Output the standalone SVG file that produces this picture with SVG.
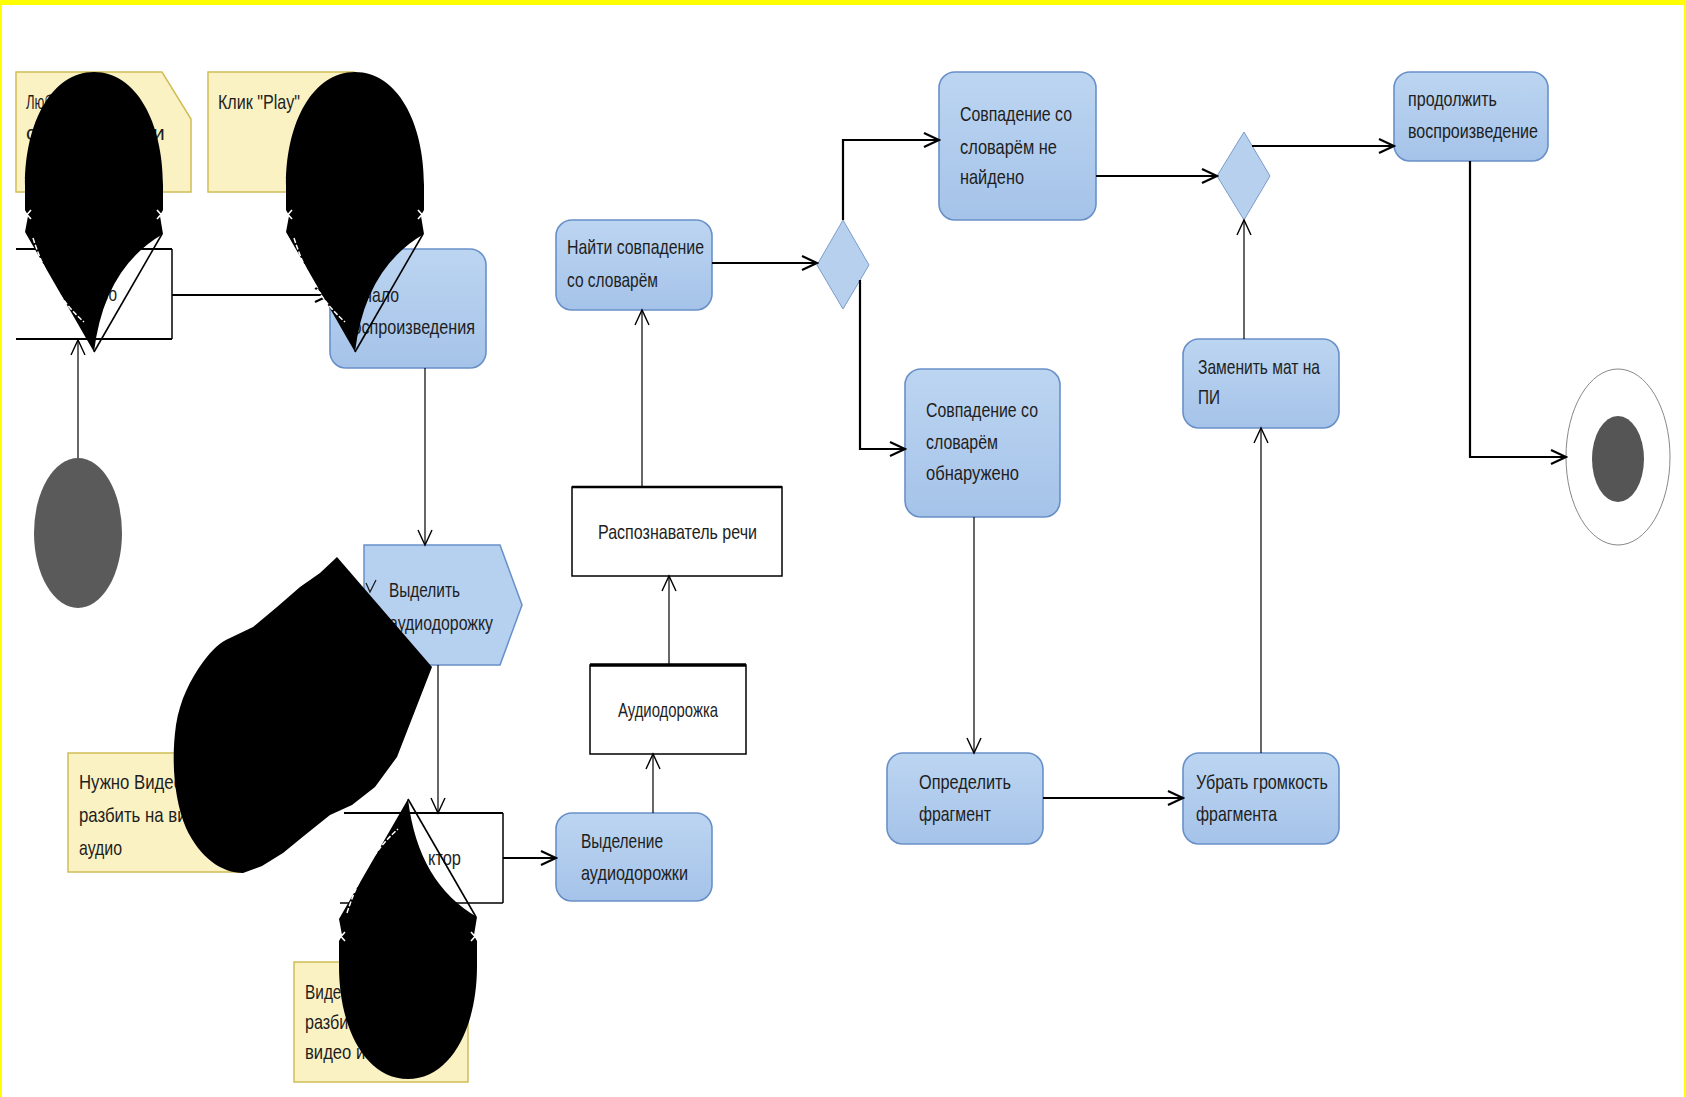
<svg xmlns="http://www.w3.org/2000/svg" width="1686" height="1097" viewBox="0 0 1686 1097">
<defs>
<style>
.t{font-family:"Liberation Sans",Arial,sans-serif;font-size:21px;fill:#1e1e1e}
.note{fill:#fbf2c4;stroke:#cfbd55;stroke-width:1.5}
.act{fill:url(#blue);stroke:#6890c8;stroke-width:1.6}
.obj{fill:#fff;stroke:#000;stroke-width:1.5}
.dec{fill:#b6d0ee;stroke:#7c9ccb;stroke-width:1}
.c1{stroke:#000;stroke-width:1.2;fill:none;marker-end:url(#a1)}
.c2{stroke:#000;stroke-width:2.2;fill:none;marker-end:url(#a2)}
.ln{stroke:#000;fill:none}
</style>
<linearGradient id="blue" x1="0" y1="0" x2="0" y2="1">
<stop offset="0" stop-color="#bcd5f1"/>
<stop offset="1" stop-color="#a5c3e9"/>
</linearGradient>
<marker id="a1" markerUnits="userSpaceOnUse" markerWidth="18" markerHeight="18" viewBox="0 0 18 18" refX="16" refY="9" orient="auto">
<path d="M1,2 L16,9 L1,16" fill="none" stroke="#000" stroke-width="1.4"/>
</marker>
<marker id="a2" markerUnits="userSpaceOnUse" markerWidth="18" markerHeight="18" viewBox="0 0 18 18" refX="16" refY="9" orient="auto">
<path d="M1,2 L16,9 L1,16" fill="none" stroke="#000" stroke-width="2.2"/>
</marker>
<g id="pin">
<path d="M94,72 C136,72 163,122 163,185 L163,210 L160,216 L163,234 Q104,268 94,352 L25,232 L28,216 L25,210 L25,185 C25,122 52,72 94,72 Z" fill="#000"/>
<path d="M162,234 L94,352" stroke="#000" stroke-width="1.6" fill="none"/>
<path d="M23,210 L31,219 M31,210 L23,219 M157,210 L165,219 M165,210 L157,219" stroke="#fff" stroke-width="1.6"/>
<path d="M33,238 Q50,292 84,322" stroke="#fff" stroke-width="1.5" stroke-dasharray="5 2" fill="none"/>
</g>
</defs>

<rect x="0" y="0" width="1686" height="1097" fill="#fff"/>
<rect x="0" y="0" width="1686" height="5" fill="#ffff00"/>
<rect x="0" y="0" width="2" height="1097" fill="#ffff00"/>
<rect x="1684" y="0" width="2" height="1097" fill="#ffff00"/>

<g id="note1">
<path class="note" d="M16,72 L162,72 L191,119 L191,192 L16,192 Z"/>
<text class="t" x="26" y="109" textLength="26" lengthAdjust="spacingAndGlyphs">Люб</text>
<text class="t" x="26" y="140">с</text>
<text class="t" x="153" y="140">и</text>
</g>
<g id="note2">
<path class="note" d="M208,72 L354,72 L383,119 L383,192 L208,192 Z"/>
<text class="t" x="218" y="109" textLength="82" lengthAdjust="spacingAndGlyphs">Клик "Play"</text>
</g>
<g id="note3">
<path class="note" d="M68,753 L214,753 L243,800 L243,872 L68,872 Z"/>
<text class="t" x="79" y="789" textLength="104" lengthAdjust="spacingAndGlyphs">Нужно Видео</text>
<text class="t" x="79" y="822" textLength="150" lengthAdjust="spacingAndGlyphs">разбить на видео и</text>
<text class="t" x="79" y="855" textLength="43" lengthAdjust="spacingAndGlyphs">аудио</text>
</g>
<g id="note4">
<path class="note" d="M294,962 L439,962 L468,1009 L468,1082 L294,1082 Z"/>
<text class="t" x="305" y="999" textLength="45" lengthAdjust="spacingAndGlyphs">Видео</text>
<text class="t" x="305" y="1029" textLength="82" lengthAdjust="spacingAndGlyphs">разбито на</text>
<text class="t" x="305" y="1059" textLength="110" lengthAdjust="spacingAndGlyphs">видео и аудио</text>
</g>

<g id="box1">
<path class="ln" d="M16,249 L172,249" stroke-width="2"/>
<path class="ln" d="M172,249 L172,339" stroke-width="1.5"/>
<path class="ln" d="M16,339 L172,339" stroke-width="2"/>
<text class="t" x="72" y="301" textLength="45" lengthAdjust="spacingAndGlyphs">Видео</text>
</g>
<g id="start">
<ellipse cx="78" cy="533" rx="44" ry="75" fill="#5a5a5a"/>
</g>
<g id="nachalo">
<rect class="act" x="330" y="249" width="156" height="119" rx="16"/>
<text class="t" x="344" y="302" textLength="55" lengthAdjust="spacingAndGlyphs">Начало</text>
<text class="t" x="344" y="334" textLength="131" lengthAdjust="spacingAndGlyphs">воспроизведения</text>
</g>
<g id="vydelit">
<path d="M364,545 L500,545 L522,605 L500,665 L364,665 Z" fill="#b6d1ef" stroke="#6890c8" stroke-width="1.5"/>
<path d="M366,583 L370,592 L376,580" stroke="#1e1e1e" stroke-width="1.3" fill="none"/>
<text class="t" x="389" y="597" textLength="71" lengthAdjust="spacingAndGlyphs">Выделить</text>
<text class="t" x="389" y="630" textLength="104" lengthAdjust="spacingAndGlyphs">аудиодорожку</text>
</g>
<g id="box2">
<path class="ln" d="M344,813 L503,813" stroke-width="2"/>
<path class="ln" d="M503,813 L503,903" stroke-width="1.5"/>
<path class="ln" d="M340,903 L503,903" stroke-width="1.5"/>
<text class="t" x="428" y="865" textLength="33" lengthAdjust="spacingAndGlyphs">ктор</text>
</g>
<g id="vydelenie">
<rect class="act" x="556" y="813" width="156" height="88" rx="16"/>
<text class="t" x="581" y="848" textLength="82" lengthAdjust="spacingAndGlyphs">Выделение</text>
<text class="t" x="581" y="880" textLength="107" lengthAdjust="spacingAndGlyphs">аудиодорожки</text>
</g>
<g id="audio">
<rect class="obj" x="590" y="665" width="156" height="89"/>
<path class="ln" d="M590,665 L746,665" stroke-width="3.5"/>
<text class="t" x="618" y="717" textLength="100" lengthAdjust="spacingAndGlyphs">Аудиодорожка</text>
</g>
<g id="recognizer">
<rect class="obj" x="572" y="487" width="210" height="89"/>
<path class="ln" d="M572,487 L782,487" stroke-width="2.5"/>
<text class="t" x="598" y="539" textLength="159" lengthAdjust="spacingAndGlyphs">Распознаватель речи</text>
</g>
<g id="find">
<rect class="act" x="556" y="220" width="156" height="90" rx="16"/>
<text class="t" x="567" y="254" textLength="137" lengthAdjust="spacingAndGlyphs">Найти совпадение</text>
<text class="t" x="567" y="287" textLength="91" lengthAdjust="spacingAndGlyphs">со словарём</text>
</g>
<g id="dec1">
<path class="dec" d="M843,220 L869,265 L843,309 L817,265 Z"/>
</g>
<g id="notfound">
<rect class="act" x="939" y="72" width="157" height="148" rx="16"/>
<text class="t" x="960" y="121" textLength="112" lengthAdjust="spacingAndGlyphs">Совпадение со</text>
<text class="t" x="960" y="154" textLength="97" lengthAdjust="spacingAndGlyphs">словарём не</text>
<text class="t" x="960" y="184" textLength="64" lengthAdjust="spacingAndGlyphs">найдено</text>
</g>
<g id="found">
<rect class="act" x="905" y="369" width="155" height="148" rx="16"/>
<text class="t" x="926" y="417" textLength="112" lengthAdjust="spacingAndGlyphs">Совпадение со</text>
<text class="t" x="926" y="449" textLength="72" lengthAdjust="spacingAndGlyphs">словарём</text>
<text class="t" x="926" y="480" textLength="93" lengthAdjust="spacingAndGlyphs">обнаружено</text>
</g>
<g id="define">
<rect class="act" x="887" y="753" width="156" height="91" rx="16"/>
<text class="t" x="919" y="789" textLength="92" lengthAdjust="spacingAndGlyphs">Определить</text>
<text class="t" x="919" y="821" textLength="72" lengthAdjust="spacingAndGlyphs">фрагмент</text>
</g>
<g id="mute">
<rect class="act" x="1183" y="753" width="156" height="91" rx="16"/>
<text class="t" x="1196" y="789" textLength="132" lengthAdjust="spacingAndGlyphs">Убрать громкость</text>
<text class="t" x="1196" y="821" textLength="81" lengthAdjust="spacingAndGlyphs">фрагмента</text>
</g>
<g id="replace">
<rect class="act" x="1183" y="339" width="156" height="89" rx="16"/>
<text class="t" x="1198" y="374" textLength="122" lengthAdjust="spacingAndGlyphs">Заменить мат на</text>
<text class="t" x="1198" y="404" textLength="22" lengthAdjust="spacingAndGlyphs">ПИ</text>
</g>
<g id="dec2">
<path class="dec" d="M1244,132 L1270,176 L1244,220 L1217,176 Z"/>
</g>
<g id="continue">
<rect class="act" x="1394" y="72" width="154" height="89" rx="16"/>
<text class="t" x="1408" y="106" textLength="89" lengthAdjust="spacingAndGlyphs">продолжить</text>
<text class="t" x="1408" y="138" textLength="130" lengthAdjust="spacingAndGlyphs">воспроизведение</text>
</g>
<g id="final">
<ellipse cx="1618" cy="457" rx="52" ry="88" fill="#fff" stroke="#888" stroke-width="1"/>
<ellipse cx="1618" cy="459" rx="26" ry="43" fill="#555"/>
</g>

<g id="connectors">
<path class="c1" d="M78,458 L78,340"/>
<path class="c2" d="M172,295 L330,295"/>
<path class="c1" d="M425,368 L425,545"/>
<path class="c1" d="M438,665 L438,813"/>
<path class="c2" d="M503,858 L556,858"/>
<path class="c1" d="M653,813 L653,754"/>
<path class="c1" d="M669,665 L669,576"/>
<path class="c1" d="M642,487 L642,310"/>
<path class="c2" d="M712,263 L817,263"/>
<path class="c2" d="M843,220 L843,140 L939,140"/>
<path class="c2" d="M860,280 L860,449 L905,449"/>
<path class="c1" d="M974,517 L974,753"/>
<path class="c2" d="M1043,798 L1183,798"/>
<path class="c1" d="M1261,753 L1261,428"/>
<path class="c1" d="M1244,339 L1244,220"/>
<path class="c2" d="M1096,176 L1217,176"/>
<path class="c2" d="M1252,146 L1394,146"/>
<path class="c2" d="M1470,161 L1470,457 L1566,457"/>
</g>

<g id="artifacts">
<use href="#pin"/>
<use href="#pin" transform="translate(261,0)"/>
<use href="#pin" transform="translate(314,1151) scale(1,-1)"/>
<path d="M337,557 L432,667 L397,757 L375,787 L352,805 L330,815 L305,835 L283,853 L262,866 L243,873 C222,873 200,858 186,828 C174,800 171,760 176,725 C180,700 190,680 203,662 C212,650 220,642 230,638 L253,627 L277,607 L300,587 L320,573 Z" fill="#000"/>
</g>
</svg>
